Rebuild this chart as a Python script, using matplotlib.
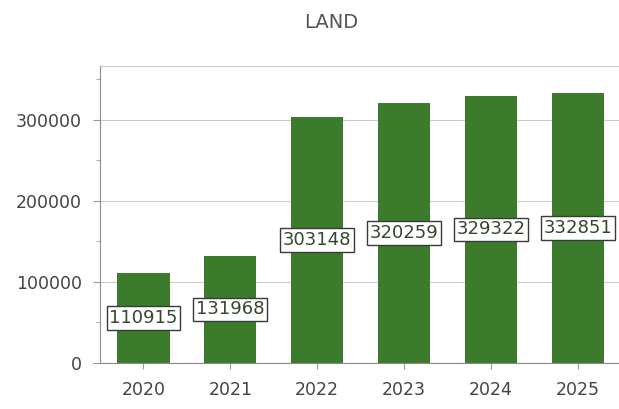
import matplotlib.pyplot as plt
from matplotlib.ticker import MultipleLocator

years = ['2020', '2021', '2022', '2023', '2024', '2025']
land = [110915, 131968, 303148, 320259, 329322, 332851]

fig = plt.figure(figsize=(6.19, 4.09), dpi=100)
ax = fig.add_axes([0.1616, 0.1125, 0.842, 0.7261])

x = range(len(years))
bars = ax.bar(x, land, width=0.6, color='#3d7b2c', zorder=2)

ax.set_xlim(-0.5, 5.5)
ax.set_ylim(0, max(land) * 1.1)
ax.set_xticks(list(x))
ax.set_xticklabels(years)
ax.yaxis.set_major_locator(MultipleLocator(100000))
ax.yaxis.set_minor_locator(MultipleLocator(50000))
ax.grid(axis='y', which='major', color='#cccccc', linewidth=0.8, zorder=0)

for s in ['left', 'bottom']:
    ax.spines[s].set_color('#8a8a8a')
ax.spines['top'].set_color('#c8c8c8')
ax.spines['right'].set_visible(False)
ax.tick_params(axis='both', which='both', colors='#9a9a9a', labelcolor='#444444', labelsize=12.5)
ax.tick_params(axis='x', length=4, pad=9)
ax.tick_params(axis='y', length=5, pad=8)
ax.tick_params(axis='y', which='minor', length=3)

# value labels in boxes at mid-height of each bar
for xi, v in zip(x, land):
    ax.text(xi, v / 2, str(v), ha='center', va='center', fontsize=13, color='#34472c',
            bbox=dict(boxstyle='square,pad=0.15', facecolor='white', edgecolor='#3a3a3a', linewidth=1.0),
            zorder=3)

fig.text(0.535, 0.945, 'LAND', ha='center', va='center', fontsize=14, color='#555555')

fig.savefig('out.png', dpi=100)
